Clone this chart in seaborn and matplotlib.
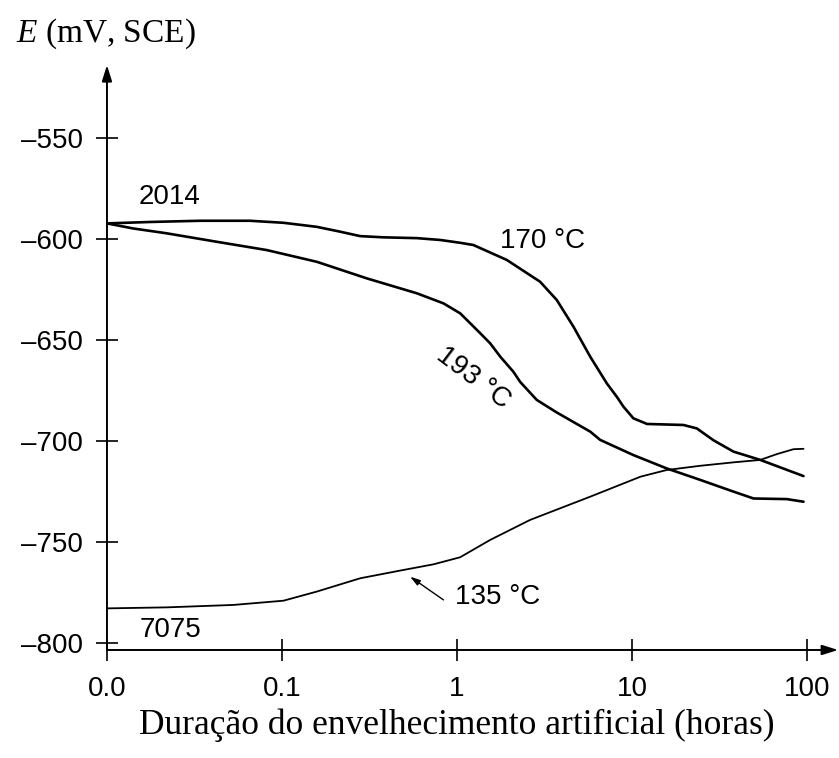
import numpy as np
import pandas as pd
import matplotlib
matplotlib.use("Agg")
import matplotlib.pyplot as plt
import seaborn as sns

# Aging time (hours) and corrosion potential (mV vs SCE) for each treatment
t_170 = [0.01, 0.0176, 0.034, 0.0657, 0.102, 0.158, 0.215, 0.280, 0.380, 0.590,
         0.802, 1.043, 1.242, 1.928, 2.99, 3.72, 4.64, 5.78, 7.19, 8.21, 8.96,
         10.2, 12.2, 19.7, 23.5, 29.3, 38.1, 54.2, 95.7]
e_170 = [-592.1, -591.4, -590.8, -590.8, -591.8, -593.8, -596.2, -598.4, -599.0,
         -599.4, -600.3, -601.7, -602.8, -610.2, -621.0, -630.0, -643.3, -658.1,
         -671.3, -678.0, -682.9, -688.6, -691.4, -691.9, -693.6, -699.5, -705.1,
         -709.2, -717.2]

t_193 = [0.01, 0.0141, 0.0219, 0.0424, 0.0818, 0.158, 0.305, 0.590, 0.838, 1.043,
         1.14, 1.36, 1.55, 1.77, 2.10, 2.30, 2.86, 3.72, 5.78, 6.59, 10.2, 15.8,
         24.6, 38.1, 49.6, 76.9, 95.7]
e_193 = [-592.1, -594.6, -597.0, -601.2, -605.3, -611.1, -619.3, -626.7, -631.7,
         -636.6, -639.9, -646.5, -651.5, -658.1, -665.5, -670.6, -679.5, -685.7,
         -695.2, -699.3, -706.8, -713.4, -719.1, -724.9, -728.3, -728.6, -729.9]

t_135 = [0.01, 0.0219, 0.0527, 0.102, 0.158, 0.280, 0.473, 0.734, 1.043, 1.55,
         2.62, 5.78, 11.2, 15.8, 24.6, 38.1, 54.2, 67.5, 83.9, 95.7]
e_135 = [-782.7, -782.2, -781.0, -778.9, -774.4, -767.8, -764.0, -760.9, -757.4,
         -748.8, -738.9, -727.4, -717.5, -714.2, -712.1, -710.4, -709.2, -706.3,
         -703.9, -703.7]

x_ticks = [0.01, 0.1, 1, 10, 100]
x_tick_labels = ["0.0", "0.1", "1", "10", "100"]
y_ticks = [-550, -600, -650, -700, -750, -800]

curves = pd.concat([
    pd.DataFrame({"t": t_170, "E": e_170, "curve": "170"}),
    pd.DataFrame({"t": t_193, "E": e_193, "curve": "193"}),
    pd.DataFrame({"t": t_135, "E": e_135, "curve": "135"}),
])

sns.set_theme(style="white")
plt.rcParams["font.family"] = ["Liberation Sans", "DejaVu Sans"]
plt.rcParams["mathtext.fontset"] = "custom"
plt.rcParams["mathtext.it"] = "Liberation Serif:italic"
plt.rcParams["mathtext.rm"] = "Liberation Serif"

fig = plt.figure(figsize=(8.39, 7.58), dpi=100)
ax = fig.add_axes([0.1275, 0.1425, 0.8715, 0.7717])

widths = {"170": 1.9, "193": 1.9, "135": 1.3}
for name, sub in curves.groupby("curve", sort=False):
    sns.lineplot(data=sub, x="t", y="E", ax=ax, color="black",
                 linewidth=widths[name], sort=False, estimator=None,
                 legend=False)
for line in ax.get_lines():
    line.set_solid_joinstyle("round")
    line.set_solid_capstyle("round")

ax.set_xscale("log")
ax.set_xlim(0.01, 151)
ax.set_ylim(-803.3, -513.7)
ax.set_xticks(x_ticks)
ax.set_xticklabels(x_tick_labels)
ax.minorticks_off()
ax.set_yticks(y_ticks)
ax.set_yticklabels([f"\u2013{abs(v)}" for v in y_ticks])
ax.tick_params(axis="both", which="major", direction="inout", length=16,
               width=1.2, color="black", labelsize=20, labelcolor="black",
               bottom=True, left=True)
ax.tick_params(axis="x", pad=11)
ax.tick_params(axis="y", pad=9)
ax.set_xlabel("")
ax.set_ylabel("")

for s in ax.spines.values():
    s.set_visible(False)

# axis lines with arrowheads
head = "-|>,head_length=0.8,head_width=0.25"
ax.annotate("", xy=(1.0, 0.0), xytext=(0.0, 0.0), xycoords="axes fraction",
            arrowprops=dict(arrowstyle=head, lw=1.4, color="black",
                            shrinkA=0, shrinkB=0),
            annotation_clip=False)
ax.annotate("", xy=(0.0, 1.0), xytext=(0.0, 0.0), xycoords="axes fraction",
            arrowprops=dict(arrowstyle=head, lw=1.4, color="black",
                            shrinkA=0, shrinkB=0),
            annotation_clip=False)

txt = dict(fontsize=20, color="black", ha="center", va="center")
ax.text(0.0229, -579.1, "2014", **txt)
ax.text(3.07, -600.8, "170 \u00b0C", **txt)
ax.text(1.24, -668.7, "193 \u00b0C", rotation=-37, rotation_mode="anchor", **txt)
ax.text(0.0232, -793.4, "7075", **txt)
ax.text(0.977, -777.1, "135 \u00b0C", fontsize=20, color="black",
        ha="left", va="center")
ax.annotate("", xy=(0.540, -767.0), xytext=(0.838, -778.5),
            arrowprops=dict(arrowstyle="-|>,head_length=0.5,head_width=0.15",
                            lw=1.0, color="black", shrinkA=0, shrinkB=0))

serif = ["Liberation Serif", "DejaVu Serif"]
fig.text(106 / 839, 1 - 34 / 758, r"$\mathit{E}$ (mV, SCE)", family=serif,
         fontsize=24, ha="center", va="center", color="black")
fig.text(457 / 839, 1 - 725 / 758,
         "Dura\u00e7\u00e3o do envelhecimento artificial (horas)",
         family=serif, fontsize=25.5, ha="center", va="center", color="black")

fig.savefig("out.png", dpi=100, facecolor="white")
